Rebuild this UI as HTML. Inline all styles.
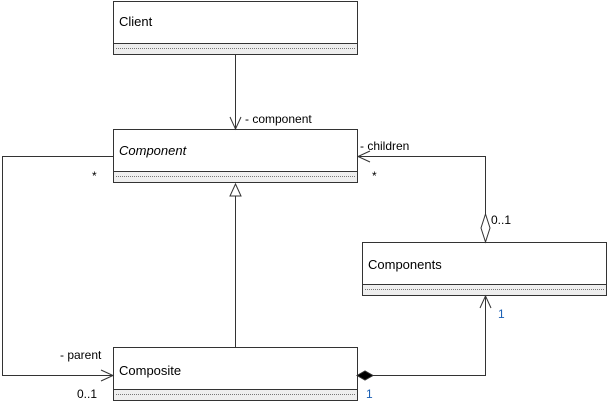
<!DOCTYPE html>
<html><head><style>body{margin:0;background:#fff}svg{display:block}text{font-family:"Liberation Sans",sans-serif;font-size:12px;fill:#000}.n{font-size:13px}</style></head><body>
<svg width="609" height="410" xmlns="http://www.w3.org/2000/svg">
<g stroke="#333" stroke-width="1">
<rect x="113.5" y="1.5" width="244" height="53" fill="#fff"/><rect x="113.5" y="43.5" width="244" height="11" fill="#eee"/><line x1="116" y1="48.5" x2="355" y2="48.5" stroke="#777" stroke-dasharray="1,1"/>
<rect x="113.5" y="129.5" width="244" height="53" fill="#fff"/><rect x="113.5" y="171.5" width="244" height="11" fill="#eee"/><line x1="116" y1="176.5" x2="355" y2="176.5" stroke="#777" stroke-dasharray="1,1"/>
<rect x="362.5" y="242.5" width="244" height="53" fill="#fff"/><rect x="362.5" y="284.5" width="244" height="11" fill="#eee"/><line x1="365" y1="289.5" x2="604" y2="289.5" stroke="#777" stroke-dasharray="1,1"/>
<rect x="113.5" y="347.5" width="244" height="53" fill="#fff"/><rect x="113.5" y="389.5" width="244" height="11" fill="#eee"/><line x1="116" y1="394.5" x2="355" y2="394.5" stroke="#777" stroke-dasharray="1,1"/>
<g fill="none">
<line x1="235.5" y1="55" x2="235.5" y2="129"/><polyline points="230,117 235.5,129 241,117"/>
<line x1="235.5" y1="196" x2="235.5" y2="347"/><polygon points="235.5,184 230,196 241,196" fill="#fff"/>
<polyline points="113,156.5 2.5,156.5 2.5,375.5 113,375.5"/><polyline points="101,370 113,375.5 101,381"/>
<polyline points="485.5,228 485.5,156.5 358,156.5"/><polyline points="370,151 358,156.5 370,162"/>
<polygon points="485.5,214 490,228 485.5,242 481,228" fill="#fff"/>
<polyline points="373,375.5 485.5,375.5 485.5,296"/><polyline points="480,308 485.5,296 491,308"/>
</g>
<polygon points="357,375.5 365,371 373,375.5 365,380" fill="#000"/>
</g>
<text class="n" x="119" y="26">Client</text>
<text class="n" x="119" y="155" font-style="italic">Component</text>
<text class="n" x="368" y="269">Components</text>
<text class="n" x="119" y="375">Composite</text>
<text x="245" y="123">- component</text>
<text x="360" y="150">- children</text>
<text x="372" y="180">*</text>
<text x="92" y="180">*</text>
<text x="491" y="224">0..1</text>
<text x="498" y="318" style="fill:#1a5fb4">1</text>
<text x="366" y="398" style="fill:#1a5fb4">1</text>
<text x="60" y="359">- parent</text>
<text x="77" y="398">0..1</text>
</svg>
</body></html>
